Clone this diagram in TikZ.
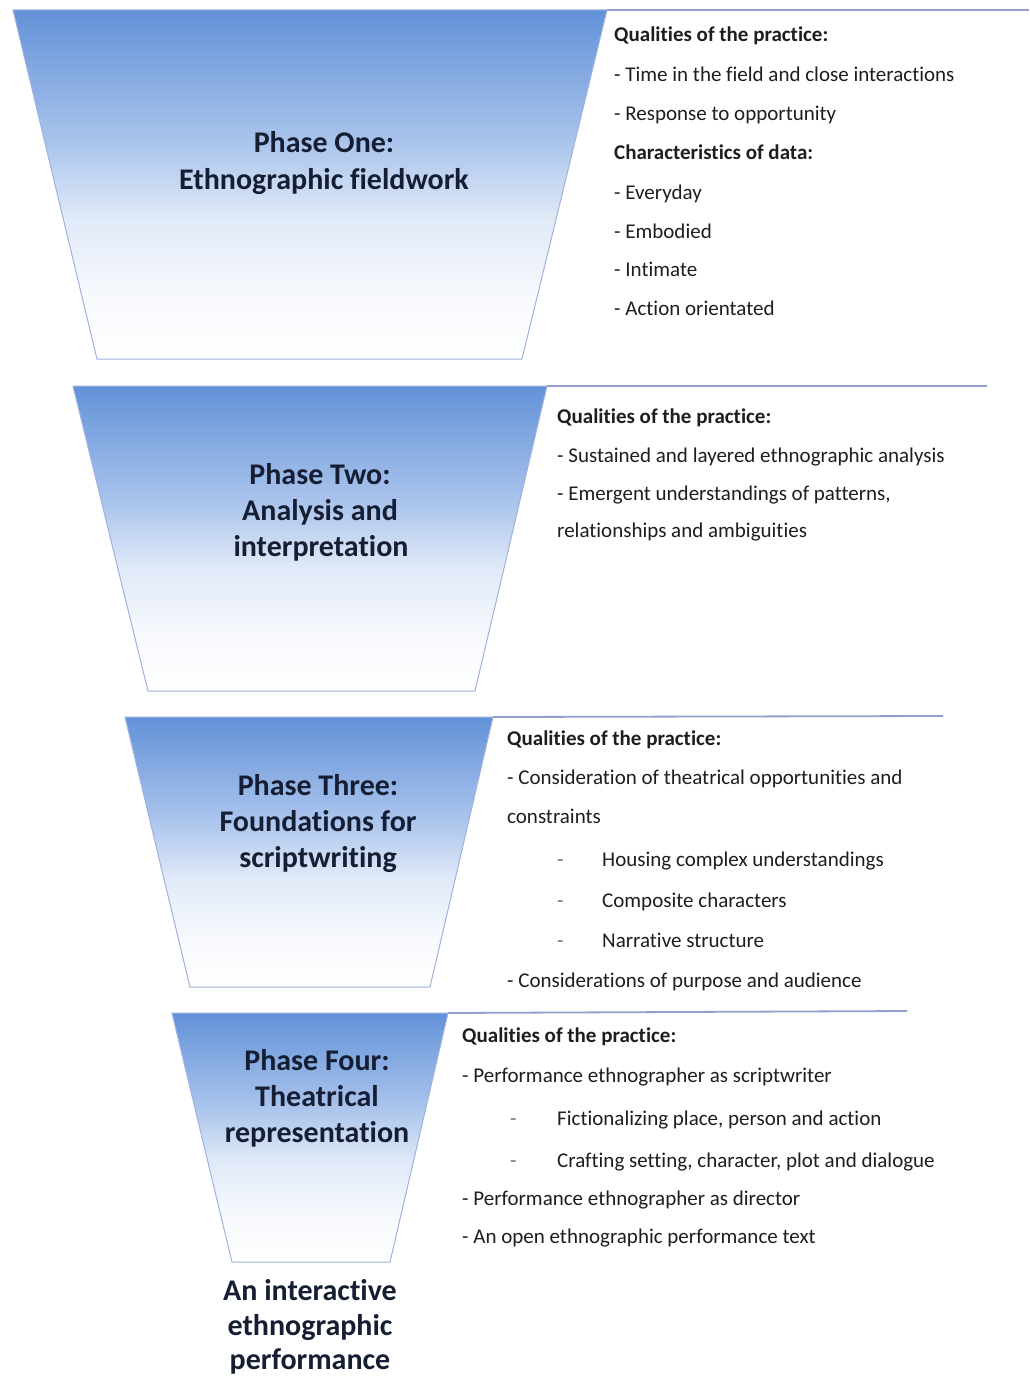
\documentclass[tikz,border=0pt]{standalone}
\usepackage{fontspec}
\setmainfont{Carlito}[Ligatures=NoCommon]
\definecolor{shadeA}{RGB}{98,146,216}
\definecolor{shadeB}{RGB}{170,196,236}
\definecolor{shadeC}{RGB}{225,234,248}
\definecolor{shadeD}{RGB}{247,249,253}
\definecolor{edgecol}{RGB}{160,178,222}
\definecolor{rulecol}{RGB}{145,160,206}
\definecolor{titlecol}{RGB}{22,30,52}
\definecolor{bodycol}{RGB}{30,30,30}
\definecolor{subdash}{RGB}{110,110,110}
\pgfdeclareverticalshading{phaseshade}{100bp}{color(0bp)=(white); color(25bp)=(white); color(34bp)=(shadeD); color(45bp)=(shadeC); color(56bp)=(shadeB); color(75bp)=(shadeA); color(100bp)=(shadeA)}
\newcommand\phtitlefont{\fontsize{30}{36}\selectfont\bfseries}
\newcommand\phbodyfont{\fontsize{21}{26}\selectfont}
\tikzset{
  phasebox/.style={shading=phaseshade},
  phaseedge/.style={draw=edgecol, line width=1pt, line join=miter},
  phaserule/.style={draw=rulecol, line width=1.8pt},
  phasetitle/.style={font=\phtitlefont, text=titlecol, inner sep=0pt, anchor=base},
  body/.style={font=\phbodyfont, text=bodycol, inner sep=0pt, anchor=base west},
  head/.style={body, font=\phbodyfont\bfseries},
  sdash/.style={body, text=subdash}
}
\begin{document}
\begin{tikzpicture}[x=1pt,y=-1pt]
\useasboundingbox[fill=white] (0,0) rectangle (1029,1378);
% ---------- coordinates ----------
\coordinate (p1tl) at (13,10);   \coordinate (p1tr) at (607,10);
\coordinate (p1br) at (522,359); \coordinate (p1bl) at (97,359);
\coordinate (p1e)  at (1029,10);
\coordinate (p2tl) at (73,386);  \coordinate (p2tr) at (547,386);
\coordinate (p2br) at (475,691); \coordinate (p2bl) at (148,691);
\coordinate (p2e)  at (987,386);
\coordinate (p3tl) at (125,717); \coordinate (p3tr) at (493,717);
\coordinate (p3br) at (430,987); \coordinate (p3bl) at (190,987);
\coordinate (p3e)  at (943,716);
\coordinate (p4tl) at (172,1013); \coordinate (p4tr) at (448,1013);
\coordinate (p4br) at (390,1262); \coordinate (p4bl) at (232,1262);
\coordinate (p4e)  at (907,1011);
% ---------- funnels ----------
\foreach \p in {p1,p2,p3,p4}{
  \shade[phasebox] (\p tl) -- (\p tr) -- (\p br) -- (\p bl) -- cycle;
  \draw[phaseedge] (\p tl) -- (\p tr) -- (\p br) -- (\p bl) -- cycle;
  \draw[phaserule] (\p tr) -- (\p e);
}
% ---------- titles ----------
\node[phasetitle] (t1a) at (324,153) {Phase One:};
\node[phasetitle] (t1b) at (324,189) {Ethnographic fieldwork};
\node[phasetitle] (t2a) at (320,484) {Phase Two:};
\node[phasetitle] (t2b) at (320,520) {Analysis and};
\node[phasetitle] (t2c) at (321,556) {interpretation};
\node[phasetitle] (t3a) at (318,795) {Phase Three:};
\node[phasetitle] (t3b) at (318,831) {Foundations for};
\node[phasetitle] (t3c) at (318,867) {scriptwriting};
\node[phasetitle] (t4a) at (317,1070) {Phase Four:};
\node[phasetitle] (t4b) at (317,1106) {Theatrical};
\node[phasetitle] (t4c) at (317,1142) {representation};
\node[phasetitle] (f1) at (310,1300) {An interactive};
\node[phasetitle] (f2) at (310,1335) {ethnographic};
\node[phasetitle] (f3) at (310,1369) {performance};
% ---------- phase one text ----------
\node[head] (a1) at (614,42)  {Qualities of the practice:};
\node[body] (a2) at (614,82)  {- Time in the field and close interactions};
\node[body] (a3) at (614,121) {- Response to opportunity};
\node[head] (a4) at (614,160) {Characteristics of data:};
\node[body] (a5) at (614,199) {- Everyday};
\node[body] (a6) at (614,238) {- Embodied};
\node[body] (a7) at (614,276) {- Intimate};
\node[body] (a8) at (614,315) {- Action orientated};
% ---------- phase two text ----------
\node[head] (b1) at (557,423) {Qualities of the practice:};
\node[body] (b2) at (557,462) {- Sustained and layered ethnographic analysis};
\node[body] (b3) at (557,500) {- Emergent understandings of patterns,};
\node[body] (b4) at (557,537) {relationships and ambiguities};
% ---------- phase three text ----------
\node[head] (c1) at (507,745) {Qualities of the practice:};
\node[body] (c2) at (507,784) {- Consideration of theatrical opportunities and};
\node[body] (c3) at (507,823) {constraints};
\node[sdash] (c4d) at (557,866) {-};
\node[body] (c4) at (602,866) {Housing complex understandings};
\node[sdash] (c5d) at (557,907) {-};
\node[body] (c5) at (602,907) {Composite characters};
\node[sdash] (c6d) at (557,947) {-};
\node[body] (c6) at (602,947) {Narrative structure};
\node[body] (c7) at (507,987) {- Considerations of purpose and audience};
% ---------- phase four text ----------
\node[head] (d1) at (462,1042) {Qualities of the practice:};
\node[body] (d2) at (462,1082) {- Performance ethnographer as scriptwriter};
\node[sdash] (d3d) at (510,1125) {-};
\node[body] (d3) at (557,1125) {Fictionalizing place, person and action};
\node[sdash] (d4d) at (510,1167) {-};
\node[body] (d4) at (557,1167) {Crafting setting, character, plot and dialogue};
\node[body] (d5) at (462,1205) {- Performance ethnographer as director};
\node[body] (d6) at (462,1243) {- An open ethnographic performance text};
\end{tikzpicture}
\end{document}
